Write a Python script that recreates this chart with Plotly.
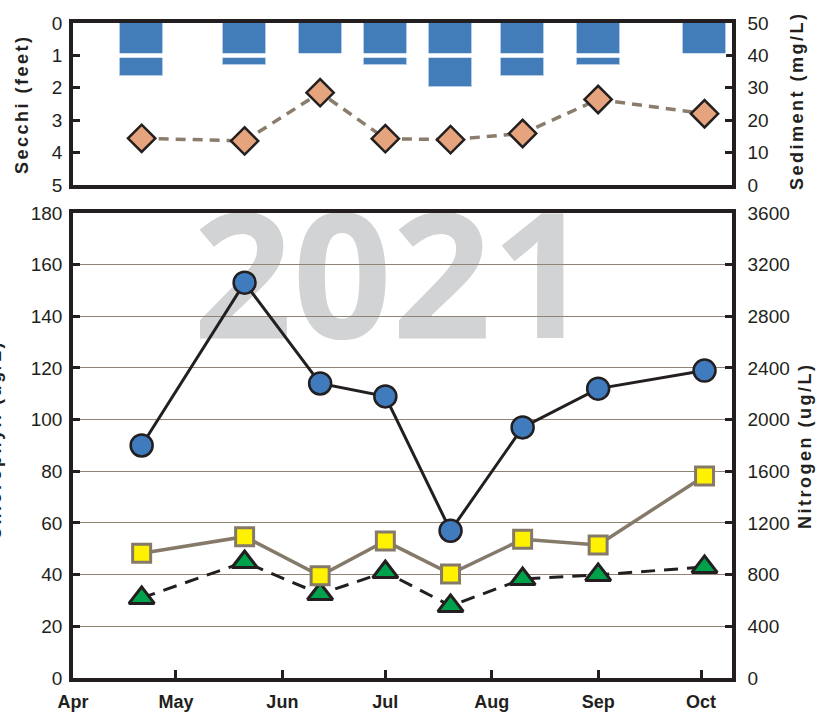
import plotly.graph_objects as go

# ---- data ----
dates = ["2021-04-21", "2021-05-21", "2021-06-12", "2021-07-01",
         "2021-07-20", "2021-08-10", "2021-09-01", "2021-10-02"]
secchi_ft = [1.64, 1.31, 0.98, 1.31, 1.97, 1.64, 1.31, 0.98]
sediment_mgL = [14.4, 13.6, 28.5, 14.3, 14.0, 15.9, 26.4, 22.0]
nitrogen_ugL = [1800, 3060, 2280, 2180, 1140, 1940, 2240, 2380]
phosphorus_ugL = [48.3, 54.7, 39.6, 53.0, 40.3, 53.7, 51.5, 78.2]
chlorophyll_ugL = [31.0, 44.9, 32.5, 41.0, 27.9, 38.3, 39.9, 43.0]

left_ticks = [0, 20, 40, 60, 80, 100, 120, 140, 160, 180]
right_ticks = [0, 400, 800, 1200, 1600, 2000, 2400, 2800, 3200, 3600]
secchi_ticks = [0, 1, 2, 3, 4, 5]
sed_ticks = [0, 10, 20, 30, 40, 50]
x_range = ["2021-04-01", "2021-10-10"]
year_label = "2021"

INK = "#231f20"
TICKFONT = dict(family="Liberation Sans, Arial", size=19, color=INK)
BOLD = dict(family="Liberation Sans, Arial", size=18, color=INK, weight="bold")

fig = go.Figure()

# top panel: Secchi bars (reversed axis) + sediment diamonds
fig.add_trace(go.Bar(
    x=dates, y=secchi_ft, base=0, width=12.5 * 86400000,
    marker=dict(color="#427db9", line=dict(color="#b3cbe7", width=1)),
    xaxis="x2", yaxis="y3", name="Secchi"))
fig.add_trace(go.Scatter(
    x=dates, y=sediment_mgL, mode="lines+markers",
    line=dict(color="#8b7d6b", width=3.5, dash="10px,7px"),
    marker=dict(symbol="diamond", size=21, color="#e5a47d",
                line=dict(color=INK, width=2.5)),
    xaxis="x2", yaxis="y4", name="Sediment"))

# bottom panel
fig.add_trace(go.Scatter(
    x=dates, y=chlorophyll_ugL, mode="lines+markers",
    line=dict(color=INK, width=3, dash="14px,9px"),
    marker=dict(symbol="triangle-up", size=22, color="#00a14b",
                line=dict(color=INK, width=3)),
    xaxis="x", yaxis="y", name="Chlorophyll"))
fig.add_trace(go.Scatter(
    x=dates, y=phosphorus_ugL, mode="lines+markers",
    line=dict(color="#857a69", width=3.5),
    marker=dict(symbol="square", size=18, color="#fff200",
                line=dict(color="#857a69", width=3)),
    xaxis="x", yaxis="y", name="Phosphorus"))
fig.add_trace(go.Scatter(
    x=dates, y=nitrogen_ugL, mode="lines+markers",
    line=dict(color=INK, width=3),
    marker=dict(symbol="circle", size=22, color="#3f7bbd",
                line=dict(color=INK, width=2.5)),
    xaxis="x", yaxis="y2", name="Nitrogen"))

axis_common = dict(showline=True, linecolor=INK, linewidth=3.5,
                   ticks="inside", ticklen=7, tickwidth=3, tickcolor=INK,
                   tickfont=TICKFONT, zeroline=False, automargin=False)

fig.update_layout(
    width=817, height=713,
    margin=dict(l=73, r=85, t=23, b=35),
    paper_bgcolor="white", plot_bgcolor="white",
    showlegend=False, bargap=0,
    xaxis=dict(type="date", range=x_range, domain=[0, 1], anchor="y",
               dtick="M1", tick0="2021-04-01", tickformat="%b",
               showline=True, linecolor=INK, linewidth=3.5, mirror=True,
               ticks="inside", ticklen=8, tickwidth=3, tickcolor=INK,
               tickfont=dict(family="Liberation Sans, Arial", size=18,
                             color=INK, weight="bold"),
               showgrid=False, zeroline=False, ticklabelstandoff=5,
               automargin=False),
    xaxis2=dict(type="date", range=x_range, domain=[0, 1], anchor="y3",
                matches="x", showticklabels=False, ticks="",
                showline=True, linecolor=INK, linewidth=3.5, mirror=True,
                showgrid=False, zeroline=False, automargin=False),
    yaxis=dict(domain=[0, 0.710], range=[0, 180], tickvals=left_ticks,
               showgrid=True, gridcolor="#8f8373", gridwidth=1,
               ticklabelstandoff=3, **axis_common),
    yaxis2=dict(overlaying="y", side="right", anchor="x", range=[0, 3600],
                tickvals=right_ticks, showgrid=False,
                ticklabelstandoff=8, **axis_common),
    yaxis3=dict(domain=[0.7527, 1], anchor="x2", range=[5, 0],
                tickvals=secchi_ticks, showgrid=False,
                ticklabelstandoff=3, **axis_common),
    yaxis4=dict(overlaying="y3", side="right", anchor="x2", range=[0, 50],
                tickvals=sed_ticks, showgrid=False,
                ticklabelstandoff=8, **axis_common),
)

# white break line across the Secchi bars at 1 ft
fig.add_shape(type="line", xref="paper", yref="y3", x0=0.03, x1=0.991,
              y0=1, y1=1, line=dict(color="white", width=4.5), layer="above")

# big year watermark behind the data
fig.add_shape(type="rect", xref="paper", yref="paper",
              x0=0.209, x1=0.759, y0=0.541, y1=0.666,
              line=dict(width=0), fillcolor="rgba(0,0,0,0)", layer="below",
              label=dict(text=year_label, textposition="middle center",
                         font=dict(family="Open Sans", size=174,
                                   color="#d1d3d4", weight="bold")))

def title(text, x, y):
    fig.add_annotation(
        text='<span style="letter-spacing:2.5px">' + text + '</span>',
        xref="paper", yref="paper", x=x, y=y, textangle=-90,
        showarrow=False, xanchor="center", yanchor="middle", font=BOLD)

title("Secchi (feet)", (22 - 73) / 659, (678 - 104) / 655)
title("Sediment (mg/L)", (797 - 73) / 659, (678 - 100) / 655)
title("Nitrogen (ug/L)", (805 - 73) / 659, (678 - 446) / 655)
title("Chlorophyll (ug/L)", (-5 - 73) / 659, (678 - 440) / 655)

fig.write_html("out.html",
               config={"displayModeBar": False},
               post_script="document.body.style.margin='0';"
                           "document.body.style.overflow='hidden';")
